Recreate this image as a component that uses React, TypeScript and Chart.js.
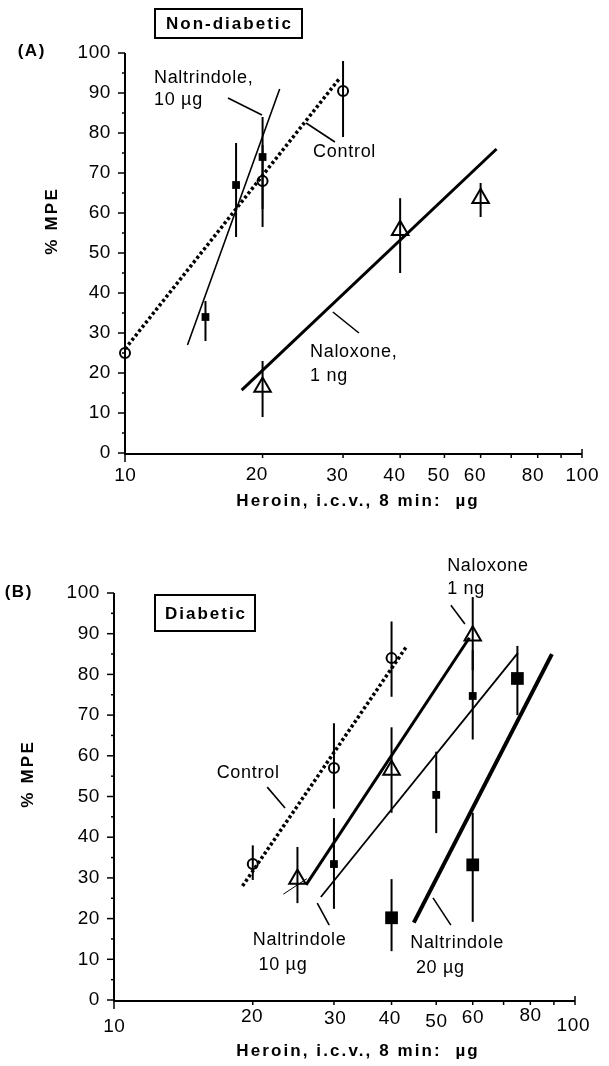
import React, { useEffect, useRef } from "react";
import { Chart, registerables } from "chart.js";

Chart.register(...registerables);

// ---------- axis ticks ----------
const xTickValues = [10, 20, 30, 40, 50, 60, 70, 80, 90, 100];
const xTickLabels = ["10", "20", "30", "40", "50", "60", "", "80", "", "100"];
const yTickValues = [0, 10, 20, 30, 40, 50, 60, 70, 80, 90, 100];
const yMinorTickValues = [5, 15, 25, 35, 45, 55, 65, 75, 85, 95];
const xTitle = "Heroin, i.c.v., 8 min:  \u00b5g";
const yTitle = "% MPE";

// ---------- Panel A: Non-diabetic ----------
const aControlDose = [10, 20, 30];
const aControlMPE = [25, 68, 90.5];
const aControlLow = [21, 61, 79];
const aControlHigh = [30, 77, 98];
const aControlFitDose = [10, 29.5];
const aControlFitMPE = [26, 93.7];

const aNaltrindoleDose = [15, 17.5, 20];
const aNaltrindoleMPE = [34, 67, 74];
const aNaltrindoleLow = [28, 54, 56.5];
const aNaltrindoleHigh = [38, 77.5, 84];
const aNaltrindoleFitDose = [13.7, 21.8];
const aNaltrindoleFitMPE = [27, 91];

const aNaloxoneDose = [20, 40, 60];
const aNaloxoneMPE = [16.5, 55.7, 63.7];
const aNaloxoneLow = [9, 45, 59];
const aNaloxoneHigh = [23, 63.7, 67.5];
const aNaloxoneFitDose = [18, 65];
const aNaloxoneFitMPE = [15.7, 76];

// ---------- Panel B: Diabetic ----------
const bControlDose = [20, 30, 40];
const bControlMPE = [33.4, 57, 84];
const bControlLow = [29.5, 47, 74.5];
const bControlHigh = [38, 68, 93];
const bControlFitDose = [19, 43.2];
const bControlFitMPE = [28, 87];

const bNaloxoneDose = [25, 40, 60];
const bNaloxoneMPE = [29.7, 56.5, 89.5];
const bNaloxoneLow = [23.8, 46, 81];
const bNaloxoneHigh = [37.6, 67, 99];
const bNaloxoneFitDose = [26.1, 59];
const bNaloxoneFitMPE = [28.3, 89];
const bNaloxoneStubDose = [23.3, 26.2];
const bNaloxoneStubMPE = [26, 29.8];

const bNaltrindole10Dose = [30, 50, 60];
const bNaltrindole10MPE = [33.4, 50.4, 74.7];
const bNaltrindole10Low = [22.4, 41, 64];
const bNaltrindole10High = [44.7, 61, 86];
const bNaltrindole10FitDose = [28.1, 75.2];
const bNaltrindole10FitMPE = [25.3, 85.3];

const bNaltrindole20Dose = [40, 60, 75];
const bNaltrindole20MPE = [20.2, 33.2, 79];
const bNaltrindole20Low = [12, 19.2, 70];
const bNaltrindole20High = [29.7, 46, 87];
const bNaltrindole20FitDose = [44.7, 89.1];
const bNaltrindole20FitMPE = [19, 85];

// ---------- types ----------
type MarkerSet = {
  dose: number[];
  mpe: number[];
  low: number[];
  high: number[];
  style: "circle" | "triangle" | "rect";
  radius: number;
  filled: boolean;
};
type FitLine = { dose: number[]; mpe: number[]; width: number; dash?: number[] };
type Note = { lines: string[]; dose: number; mpe: number; gap: number };
type Leader = { dose: number[]; mpe: number[] };

type PanelCfg = {
  top: number;
  height: number;
  area: { left: number; right: number; top: number; bottom: number };
  markers: MarkerSet[];
  fits: FitLine[];
  notes: Note[];
  leaders: Leader[];
  letter: { text: string; x: number; y: number };
  box: { text: string; x: number; y: number; w: number; h: number };
  yTitlePos: { x: number; y: number };
  xTitlePos: { x: number; y: number };
  xLabelDy: number[];
  xLabelDx: number[];
};

const panelA: PanelCfg = {
  top: 0,
  height: 530,
  area: { left: 125, right: 582, top: 53, bottom: 453 },
  markers: [
    { dose: aControlDose, mpe: aControlMPE, low: aControlLow, high: aControlHigh, style: "circle", radius: 5, filled: false },
    { dose: aNaltrindoleDose, mpe: aNaltrindoleMPE, low: aNaltrindoleLow, high: aNaltrindoleHigh, style: "rect", radius: 5.5, filled: true },
    { dose: aNaloxoneDose, mpe: aNaloxoneMPE, low: aNaloxoneLow, high: aNaloxoneHigh, style: "triangle", radius: 9.5, filled: false },
  ],
  fits: [
    { dose: aControlFitDose, mpe: aControlFitMPE, width: 3.5, dash: [3, 2.5] },
    { dose: aNaltrindoleFitDose, mpe: aNaltrindoleFitMPE, width: 1.6 },
    { dose: aNaloxoneFitDose, mpe: aNaloxoneFitMPE, width: 3 },
  ],
  notes: [
    { lines: ["Naltrindole,", "10 \u00b5g"], dose: 11.57, mpe: 93.75, gap: 5.6 },
    { lines: ["Control"], dose: 25.8, mpe: 75.25, gap: 0 },
    { lines: ["Naloxone,", "1 ng"], dose: 25.4, mpe: 25.25, gap: 6.1 },
  ],
  leaders: [
    { dose: [16.8, 19.94], mpe: [88.75, 84.5] },
    { dose: [24.9, 28.8], mpe: [82.5, 77.75] },
    { dose: [28.5, 32.5], mpe: [35.25, 30] },
  ],
  letter: { text: "(A)", x: 31, y: 51 },
  box: { text: "Non-diabetic", x: 155, y: 9, w: 147, h: 29 },
  yTitlePos: { x: 52, y: 222 },
  xTitlePos: { x: 357, y: 501 },
  xLabelDy: [22, 21, 22, 22, 22, 22, 22, 22, 22, 22],
  xLabelDx: [0, -6, -6, -6, -6, -6, 0, -5, 0, 0],
};

const panelB: PanelCfg = {
  top: 540,
  height: 526,
  area: { left: 114, right: 575, top: 53, bottom: 460 },
  markers: [
    { dose: bControlDose, mpe: bControlMPE, low: bControlLow, high: bControlHigh, style: "circle", radius: 5, filled: false },
    { dose: bNaloxoneDose, mpe: bNaloxoneMPE, low: bNaloxoneLow, high: bNaloxoneHigh, style: "triangle", radius: 9.5, filled: false },
    { dose: bNaltrindole10Dose, mpe: bNaltrindole10MPE, low: bNaltrindole10Low, high: bNaltrindole10High, style: "rect", radius: 5.5, filled: true },
    { dose: bNaltrindole20Dose, mpe: bNaltrindole20MPE, low: bNaltrindole20Low, high: bNaltrindole20High, style: "rect", radius: 9, filled: true },
  ],
  fits: [
    { dose: bControlFitDose, mpe: bControlFitMPE, width: 3.5, dash: [3, 2.5] },
    { dose: bNaloxoneFitDose, mpe: bNaloxoneFitMPE, width: 3 },
    { dose: bNaloxoneStubDose, mpe: bNaloxoneStubMPE, width: 1 },
    { dose: bNaltrindole10FitDose, mpe: bNaltrindole10FitMPE, width: 1.8 },
    { dose: bNaltrindole20FitDose, mpe: bNaltrindole20FitMPE, width: 4 },
  ],
  notes: [
    { lines: ["Naloxone", "1 ng"], dose: 52.8, mpe: 106.6, gap: 5.6 },
    { lines: ["Control"], dose: 16.7, mpe: 55.8, gap: 0 },
    { lines: ["Naltrindole", " 10 \u00b5g"], dose: 20.0, mpe: 14.7, gap: 6.1 },
    { lines: ["Naltrindole", " 20 \u00b5g"], dose: 43.9, mpe: 14.0, gap: 6.1 },
  ],
  leaders: [
    { dose: [53.8, 57.7], mpe: [97, 92.4] },
    { dose: [21.5, 23.5], mpe: [52.3, 47.2] },
    { dose: [27.6, 29.3], mpe: [23.8, 18.4] },
    { dose: [49.2, 53.8], mpe: [25.1, 18.4] },
  ],
  letter: { text: "(B)", x: 18, y: 52 },
  box: { text: "Diabetic", x: 155, y: 55, w: 100, h: 36 },
  yTitlePos: { x: 28, y: 235 },
  xTitlePos: { x: 357, y: 511 },
  xLabelDy: [26, 16, 18, 18, 21, 17, 18, 15, 18, 25],
  xLabelDx: [0, -1, 1, -2, 0, 0, 0, 0, 0, -2],
};

const FONT = '"Liberation Sans", Arial, Helvetica, sans-serif';

function drawText(
  ctx: CanvasRenderingContext2D,
  s: string,
  x: number,
  y: number,
  font: string,
  align: CanvasTextAlign,
  spacing: number
) {
  ctx.save();
  ctx.font = font;
  (ctx as any).letterSpacing = spacing + "px";
  ctx.textAlign = align;
  ctx.textBaseline = "middle";
  ctx.fillStyle = "#000";
  let dx = 0;
  if (align === "center") dx = spacing / 2;
  ctx.fillText(s, x + dx, y);
  ctx.restore();
}

function makePlugin(cfg: PanelCfg) {
  return {
    id: "decor",
    beforeDatasetsDraw(chart: any) {
      const ctx: CanvasRenderingContext2D = chart.ctx;
      const xs = chart.scales.x;
      const ys = chart.scales.y;
      const a = chart.chartArea;
      ctx.save();
      ctx.strokeStyle = "#000";
      ctx.lineCap = "butt";
      // axes
      ctx.lineWidth = 2;
      ctx.beginPath();
      ctx.moveTo(a.left, ys.getPixelForValue(100));
      ctx.lineTo(a.left, ys.getPixelForValue(0) + 1);
      ctx.lineTo(xs.getPixelForValue(100), ys.getPixelForValue(0) + 1);
      ctx.stroke();
      // y ticks
      ctx.lineWidth = 1.5;
      yTickValues.forEach((v) => {
        const py = ys.getPixelForValue(v);
        ctx.beginPath();
        ctx.moveTo(a.left - 7, py);
        ctx.lineTo(a.left, py);
        ctx.stroke();
        drawText(ctx, String(v), a.left - 14, py, `19px ${FONT}`, "right", 0.6);
      });
      yMinorTickValues.forEach((v) => {
        const py = ys.getPixelForValue(v);
        ctx.beginPath();
        ctx.moveTo(a.left - 3, py);
        ctx.lineTo(a.left + 1, py);
        ctx.stroke();
      });
      // x ticks
      const y0 = ys.getPixelForValue(0) + 1;
      xTickValues.forEach((v, i) => {
        const px = xs.getPixelForValue(v);
        ctx.beginPath();
        if (v === 10) {
          ctx.moveTo(px, y0);
          ctx.lineTo(px, y0 + 8);
        } else if (v === 100) {
          ctx.moveTo(px, y0 - 5);
          ctx.lineTo(px, y0 + 4);
        } else {
          ctx.moveTo(px, y0);
          ctx.lineTo(px, y0 + 4);
        }
        ctx.stroke();
        if (xTickLabels[i]) {
          drawText(ctx, xTickLabels[i], px + cfg.xLabelDx[i], y0 + cfg.xLabelDy[i], `19px ${FONT}`, "center", 0.6);
        }
      });
      // error bars
      ctx.lineWidth = 2;
      cfg.markers.forEach((m) => {
        m.dose.forEach((d, i) => {
          const px = xs.getPixelForValue(d);
          ctx.beginPath();
          ctx.moveTo(px, ys.getPixelForValue(m.low[i]));
          ctx.lineTo(px, ys.getPixelForValue(m.high[i]));
          ctx.stroke();
        });
      });
      // leader lines
      ctx.lineWidth = 1.6;
      cfg.leaders.forEach((l) => {
        ctx.beginPath();
        ctx.moveTo(xs.getPixelForValue(l.dose[0]), ys.getPixelForValue(l.mpe[0]));
        ctx.lineTo(xs.getPixelForValue(l.dose[1]), ys.getPixelForValue(l.mpe[1]));
        ctx.stroke();
      });
      ctx.restore();
    },
    afterDraw(chart: any) {
      const ctx: CanvasRenderingContext2D = chart.ctx;
      const xs = chart.scales.x;
      const ys = chart.scales.y;
      // notes
      cfg.notes.forEach((n) => {
        const px = xs.getPixelForValue(n.dose);
        n.lines.forEach((line, k) => {
          const py = ys.getPixelForValue(n.mpe - k * n.gap);
          drawText(ctx, line, px, py, `18px ${FONT}`, "left", 0.7);
        });
      });
      // panel letter
      drawText(ctx, cfg.letter.text, cfg.letter.x, cfg.letter.y, `bold 17px ${FONT}`, "center", 1.5);
      // box label
      ctx.save();
      ctx.fillStyle = "#fff";
      ctx.fillRect(cfg.box.x, cfg.box.y, cfg.box.w, cfg.box.h);
      ctx.strokeStyle = "#000";
      ctx.lineWidth = 2;
      ctx.strokeRect(cfg.box.x, cfg.box.y, cfg.box.w, cfg.box.h);
      ctx.restore();
      drawText(ctx, cfg.box.text, cfg.box.x + cfg.box.w / 2, cfg.box.y + cfg.box.h / 2 + 1, `bold 17px ${FONT}`, "center", 2);
      // axis titles
      drawText(ctx, xTitle, cfg.xTitlePos.x, cfg.xTitlePos.y, `bold 17px ${FONT}`, "center", 2.1);
      ctx.save();
      ctx.translate(cfg.yTitlePos.x, cfg.yTitlePos.y);
      ctx.rotate(-Math.PI / 2);
      drawText(ctx, yTitle, 0, 0, `bold 17px ${FONT}`, "center", 2.2);
      ctx.restore();
    },
  };
}

function buildDatasets(cfg: PanelCfg) {
  const ds: any[] = [];
  cfg.fits.forEach((f) => {
    ds.push({
      data: f.dose.map((d, i) => ({ x: d, y: f.mpe[i] })),
      showLine: true,
      borderColor: "#000",
      borderWidth: f.width,
      borderDash: f.dash || [],
      borderCapStyle: "butt",
      pointRadius: 0,
      fill: false,
      clip: false,
    });
  });
  cfg.markers.forEach((m) => {
    ds.push({
      data: m.dose.map((d, i) => ({ x: d, y: m.mpe[i] })),
      showLine: false,
      pointStyle: m.style,
      pointRadius: m.radius,
      pointBorderWidth: m.filled ? 0 : 2,
      pointBorderColor: "#000",
      pointBackgroundColor: m.filled ? "#000" : "rgba(0,0,0,0)",
      clip: false,
    });
  });
  return ds;
}

function Panel({ cfg }: { cfg: PanelCfg }) {
  const ref = useRef<HTMLCanvasElement>(null);
  useEffect(() => {
    const canvas = ref.current!;
    const chart = new Chart(canvas, {
      type: "scatter",
      data: { datasets: buildDatasets(cfg) },
      options: {
        responsive: false,
        maintainAspectRatio: false,
        animation: false,
        devicePixelRatio: 1,
        events: [],
        layout: {
          padding: {
            left: cfg.area.left,
            right: 609 - cfg.area.right,
            top: cfg.area.top,
            bottom: cfg.height - cfg.area.bottom,
          },
        },
        plugins: { legend: { display: false }, tooltip: { enabled: false } },
        scales: {
          x: { type: "logarithmic", min: 10, max: 100, display: false },
          y: { type: "linear", min: 0, max: 100, display: false },
        },
      },
      plugins: [makePlugin(cfg)],
    } as any);
    return () => chart.destroy();
  }, [cfg]);
  return (
    <canvas
      ref={ref}
      width={609}
      height={cfg.height}
      style={{ position: "absolute", left: 0, top: cfg.top, width: 609, height: cfg.height }}
    />
  );
}

export default function App() {
  return (
    <div style={{ position: "absolute", left: 0, top: 0, width: 609, height: 1066, background: "#fff", overflow: "hidden" }}>
      <Panel cfg={panelA} />
      <Panel cfg={panelB} />
    </div>
  );
}
